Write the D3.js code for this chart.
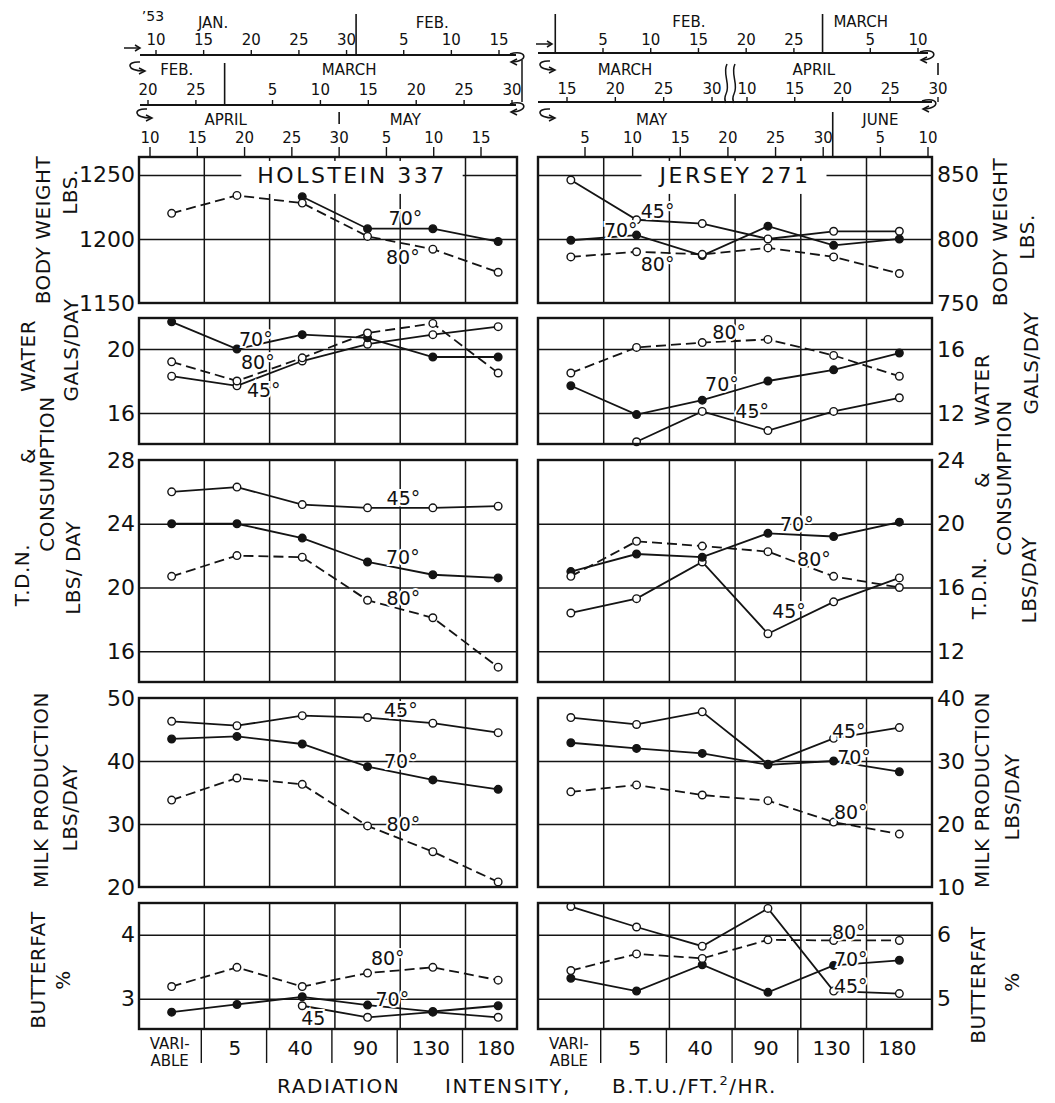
<!DOCTYPE html>
<html>
<head>
<meta charset="utf-8">
<script src="https://cdn.jsdelivr.net/npm/d3@7"></script>
<style>
  body { margin: 0; background: #fff; }
  svg text { font-family: 'DejaVu Sans', 'Liberation Sans', sans-serif; fill: #111; }
</style>
</head>
<body>
<div id="chart"></div>
<script>
// ---- Data ----------------------------------------------------------------

const categories = ['VARIABLE', '5', '40', '90', '130', '180']
const categoryLabels = [['VARI-', 'ABLE'], ['5'], ['40'], ['90'], ['130'], ['180']]

// Holstein 337 (null = not plotted)
const holsteinWeight = { 70: [null, null, 1233, 1208, 1208, 1198], 80: [1220, 1234, 1228, 1202, 1192, 1174] }
const holsteinWater = { 45: [18.3, 17.7, 19.25, 20.3, 20.9, 21.4], 70: [21.7, 20.0, 20.9, 20.7, 19.5, 19.5], 80: [19.2, 18.0, 19.45, 21.0, 21.6, 18.5] }
const holsteinTdn = { 45: [26.0, 26.3, 25.2, 25.0, 25.0, 25.1], 70: [24.0, 24.0, 23.1, 21.6, 20.8, 20.6], 80: [20.7, 22.0, 21.9, 19.2, 18.1, 15.0] }
const holsteinMilk = { 45: [46.3, 45.6, 47.2, 46.9, 46.0, 44.5], 70: [43.5, 43.9, 42.7, 39.1, 37.0, 35.5], 80: [33.8, 37.3, 36.3, 29.7, 25.6, 20.8] }
const holsteinFat = { 45: [null, null, 2.89, 2.71, 2.79, 2.71], 70: [2.79, 2.91, 3.03, 2.90, 2.80, 2.89], 80: [3.19, 3.49, 3.19, 3.40, 3.49, 3.29] }

// Jersey 271
const jerseyWeight = { 45: [846, 815, 812, 800, 806, 806], 70: [799, 803, 787, 810, 795, 800], 80: [786, 790, 788, 793, 786, 773] }
const jerseyWater = { 45: [null, 10.2, 12.1, 10.9, 12.1, 12.95], 70: [13.7, 11.9, 12.8, 14.0, 14.7, 15.75], 80: [14.5, 16.1, 16.4, 16.6, 15.6, 14.3] }
const jerseyTdn = { 45: [14.4, 15.3, 17.6, 13.1, 15.1, 16.6], 70: [17.0, 18.1, 17.9, 19.4, 19.2, 20.1], 80: [16.7, 18.9, 18.6, 18.25, 16.7, 16.0] }
const jerseyMilk = { 45: [36.9, 35.8, 37.8, 29.5, 33.6, 35.3], 70: [32.9, 32.0, 31.2, 29.4, 30.0, 28.3], 80: [25.1, 26.2, 24.6, 23.7, 20.3, 18.4] }
const jerseyFat = { 45: [6.44, 6.12, 5.82, 6.41, 5.12, 5.08], 70: [5.32, 5.12, 5.53, 5.10, 5.52, 5.60], 80: [5.44, 5.70, 5.63, 5.92, 5.91, 5.91] }

// Y tick labels
const holsteinWeightTicks = [1150, 1200, 1250]
const holsteinWaterTicks = [16, 20]
const holsteinTdnTicks = [16, 20, 24, 28]
const holsteinMilkTicks = [20, 30, 40, 50]
const holsteinFatTicks = [3, 4]
const jerseyWeightTicks = [750, 800, 850]
const jerseyWaterTicks = [12, 16]
const jerseyTdnTicks = [12, 16, 20, 24]
const jerseyMilkTicks = [10, 20, 30, 40]
const jerseyFatTicks = [5, 6]

// Temperature notes written along the lines: [text, category position, value]
const holsteinWeightNotes = [['70°', 3.58, 1216], ['80°', 3.54, 1186]]
const holsteinWaterNotes = [['70°', 1.29, 20.6], ['80°', 1.32, 19.2], ['45°', 1.41, 17.45]]
const holsteinTdnNotes = [['45°', 3.55, 25.6], ['70°', 3.54, 21.9], ['80°', 3.55, 19.3]]
const holsteinMilkNotes = [['45°', 3.51, 48.0], ['70°', 3.51, 40.0], ['80°', 3.55, 30.0]]
const holsteinFatNotes = [['80°', 3.31, 3.64], ['70°', 3.38, 3.0], ['45', 2.17, 2.7]]
const jerseyWeightNotes = [['45°', 1.32, 822], ['70°', 0.76, 807], ['80°', 1.32, 780]]
const jerseyWaterNotes = [['80°', 2.41, 17.05], ['70°', 2.3, 13.8], ['45°', 2.76, 12.1]]
const jerseyTdnNotes = [['70°', 3.44, 20.0], ['80°', 3.7, 17.8], ['45°', 3.32, 14.5]]
const jerseyMilkNotes = [['45°', 4.23, 34.8], ['70°', 4.31, 30.6], ['80°', 4.26, 21.85]]
const jerseyFatNotes = [['80°', 4.23, 6.04], ['70°', 4.26, 5.62], ['45°', 4.26, 5.2]]

// Calendar strips above the panels
const leftRow1Ticks = ['1953-01-10', '1953-01-15', '1953-01-20', '1953-01-25', '1953-01-30', '1953-02-05', '1953-02-10', '1953-02-15']
const leftRow2Ticks = ['1953-02-20', '1953-02-25', '1953-03-05', '1953-03-10', '1953-03-15', '1953-03-20', '1953-03-25', '1953-03-30']
const leftRow3Ticks = ['1953-04-10', '1953-04-15', '1953-04-20', '1953-04-25', '1953-04-30', '1953-05-05', '1953-05-10', '1953-05-15']
const rightRow1Ticks = ['1953-02-05', '1953-02-10', '1953-02-15', '1953-02-20', '1953-02-25', '1953-03-05', '1953-03-10']
const rightRow2Ticks = ['1953-03-15', '1953-03-20', '1953-03-25', '1953-03-30', '1953-04-10', '1953-04-15', '1953-04-20', '1953-04-25', '1953-04-30']
const rightRow3Ticks = ['1953-05-05', '1953-05-10', '1953-05-15', '1953-05-20', '1953-05-25', '1953-05-30', '1953-06-05', '1953-06-10']

const leftRow1Months = [['JAN.', '1953-01-16'], ['FEB.', '1953-02-08']]
const leftRow2Months = [['FEB.', '1953-02-23'], ['MARCH', '1953-03-13']]
const leftRow3Months = [['APRIL', '1953-04-18'], ['MAY', '1953-05-07']]
const rightRow1Months = [['FEB.', '1953-02-14'], ['MARCH', '1953-03-04']]
const rightRow2Months = [['MARCH', '1953-03-21'], ['APRIL', '1953-04-17']]
const rightRow3Months = [['MAY', '1953-05-12'], ['JUNE', '1953-06-05']]

// ---- Layout ---------------------------------------------------------------

const width = 1055
const height = 1103

const rows = {
  weight: { top: 157, bottom: 303 },
  water: { top: 318, bottom: 444 },
  tdn: { top: 460, bottom: 682 },
  milk: { top: 698, bottom: 887 },
  fat: { top: 903, bottom: 1029 }
}

const breeds = {
  holstein: { x0: 139, band: 65.3, frameWidth: 378, side: 'left' },
  jersey: { x0: 538, band: 65.7, frameWidth: 394, side: 'right' }
}

const seriesStyle = {
  45: { dash: null, filled: false },
  70: { dash: null, filled: true },
  80: { dash: '10,5', filled: false }
}

const panels = [
  { breed: 'holstein', row: 'weight', series: holsteinWeight, domain: [1150, 1264], ticks: holsteinWeightTicks, notes: holsteinWeightNotes, title: 'HOLSTEIN 337' },
  { breed: 'holstein', row: 'water', series: holsteinWater, domain: [14.06, 21.94], ticks: holsteinWaterTicks, notes: holsteinWaterNotes },
  { breed: 'holstein', row: 'tdn', series: holsteinTdn, domain: [14.07, 28], ticks: holsteinTdnTicks, notes: holsteinTdnNotes },
  { breed: 'holstein', row: 'milk', series: holsteinMilk, domain: [20, 50], ticks: holsteinMilkTicks, notes: holsteinMilkNotes },
  { breed: 'holstein', row: 'fat', series: holsteinFat, domain: [2.527, 4.495], ticks: holsteinFatTicks, notes: holsteinFatNotes },
  { breed: 'jersey', row: 'weight', series: jerseyWeight, domain: [750, 864], ticks: jerseyWeightTicks, notes: jerseyWeightNotes, title: 'JERSEY 271' },
  { breed: 'jersey', row: 'water', series: jerseyWater, domain: [10.06, 17.94], ticks: jerseyWaterTicks, notes: jerseyWaterNotes },
  { breed: 'jersey', row: 'tdn', series: jerseyTdn, domain: [10.07, 24], ticks: jerseyTdnTicks, notes: jerseyTdnNotes },
  { breed: 'jersey', row: 'milk', series: jerseyMilk, domain: [10, 40], ticks: jerseyMilkTicks, notes: jerseyMilkNotes },
  { breed: 'jersey', row: 'fat', series: jerseyFat, domain: [4.527, 6.495], ticks: jerseyFatTicks, notes: jerseyFatNotes }
]

const svg = d3.select('#chart')
  .append('svg')
  .attr('width', width)
  .attr('height', height)

svg.append('rect').attr('width', width).attr('height', height).attr('fill', '#fff')

const ink = '#141414'

// ---- Panels ---------------------------------------------------------------

panels.forEach(p => {
  const box = breeds[p.breed]
  const rowBox = rows[p.row]
  const right = box.x0 + box.frameWidth

  const xScale = d3.scaleBand()
    .domain(categories)
    .range([box.x0, box.x0 + box.band * categories.length])
  const xMid = (i) => xScale(categories[0]) + xScale.bandwidth() * (i + 0.5)
  const yScale = d3.scaleLinear().domain(p.domain).range([rowBox.bottom, rowBox.top])

  const g = svg.append('g').attr('class', 'panel')

  // Horizontal gridlines - inner ticks only, the frame covers the rest
  g.append('g')
    .attr('class', 'grid')
    .attr('transform', `translate(${box.x0},0)`)
    .call(
      d3.axisLeft(yScale)
        .tickValues(p.ticks.filter(t => yScale(t) > rowBox.top + 3 && yScale(t) < rowBox.bottom - 3))
        .tickSize(-box.frameWidth)
        .tickFormat('')
    )
    .call(a => a.select('.domain').remove())
    .call(a => a.selectAll('line').attr('stroke', ink).attr('stroke-width', 1.5))

  // Vertical gridlines at category boundaries
  g.selectAll('.vgrid')
    .data(categories.slice(1))
    .join('line')
    .attr('x1', d => xScale(d))
    .attr('x2', d => xScale(d))
    .attr('y1', rowBox.top)
    .attr('y2', rowBox.bottom)
    .attr('stroke', ink)
    .attr('stroke-width', 1.5)

  // Title with a white patch under it
  if (p.title) {
    const title = g.append('text')
      .attr('x', p.breed === 'holstein' ? 352 : 735)
      .attr('y', yScale(p.ticks[2]) + 8)
      .attr('text-anchor', 'middle')
      .attr('font-size', 22)
      .attr('letter-spacing', 2.5)
      .text(p.title)
    const bb = title.node().getBBox()
    g.insert('rect', () => title.node())
      .attr('x', bb.x - 16)
      .attr('y', bb.y - 2)
      .attr('width', bb.width + 32)
      .attr('height', bb.height + 8)
      .attr('fill', '#fff')
  }

  // Lines and markers
  Object.keys(p.series).forEach(temp => {
    const values = p.series[temp]
    const style = seriesStyle[temp]
    const pts = values.map((v, i) => ({ i, v }))
    const line = d3.line()
      .defined(d => d.v !== null)
      .x(d => xMid(d.i))
      .y(d => yScale(d.v))

    g.append('path')
      .datum(pts)
      .attr('d', line)
      .attr('fill', 'none')
      .attr('stroke', ink)
      .attr('stroke-width', 1.8)
      .attr('stroke-dasharray', style.dash)

    g.selectAll(null)
      .data(pts.filter(d => d.v !== null))
      .join('circle')
      .attr('cx', d => xMid(d.i))
      .attr('cy', d => yScale(d.v))
      .attr('r', 3.8)
      .attr('fill', style.filled ? ink : '#fff')
      .attr('stroke', ink)
      .attr('stroke-width', 1.4)
  })

  // Temperature notes
  g.selectAll('.note')
    .data(p.notes)
    .join('text')
    .attr('x', d => xMid(d[1]))
    .attr('y', d => yScale(d[2]))
    .attr('dy', '0.36em')
    .attr('text-anchor', 'middle')
    .attr('font-size', 19)
    .attr('stroke', '#fff')
    .attr('stroke-width', 4)
    .attr('paint-order', 'stroke')
    .text(d => d[0])

  // Frame
  g.append('rect')
    .attr('x', box.x0)
    .attr('y', rowBox.top)
    .attr('width', box.frameWidth)
    .attr('height', rowBox.bottom - rowBox.top)
    .attr('fill', 'none')
    .attr('stroke', ink)
    .attr('stroke-width', 2.4)

  // Tick labels
  const axis = box.side === 'left'
    ? d3.axisLeft(yScale).tickValues(p.ticks).tickSize(0).tickPadding(4)
    : d3.axisRight(yScale).tickValues(p.ticks).tickSize(0).tickPadding(5)
  g.append('g')
    .attr('transform', `translate(${box.side === 'left' ? box.x0 : right},0)`)
    .call(axis.tickFormat(d3.format('d')))
    .call(a => a.select('.domain').remove())
    .call(a => a.selectAll('text')
      .attr('font-size', 22)
      .attr('font-family', 'DejaVu Sans')
      .attr('fill', ink))
})

// ---- Bottom category axis ---------------------------------------------------

Object.keys(breeds).forEach(key => {
  const box = breeds[key]
  const xScale = d3.scaleBand()
    .domain(categories)
    .range([box.x0, box.x0 + box.band * categories.length])
  const base = rows.fat.bottom

  svg.selectAll(null)
    .data(categories.slice(1))
    .join('line')
    .attr('x1', d => xScale(d) - 3)
    .attr('x2', d => xScale(d) - 3)
    .attr('y1', base)
    .attr('y2', base + 34)
    .attr('stroke', ink)
    .attr('stroke-width', 1.4)

  const lbl = svg.selectAll(null)
    .data(categories)
    .join('text')
    .attr('x', d => xScale(d) + xScale.bandwidth() / 2 - 2)
    .attr('y', base + 26)
    .attr('text-anchor', 'middle')

  lbl.each(function (d, i) {
    const lines = categoryLabels[i]
    const t = d3.select(this)
    if (lines.length === 1) {
      t.attr('font-size', 20).text(lines[0])
    } else {
      t.attr('font-size', 15).attr('y', base + 20)
      t.append('tspan').attr('x', t.attr('x')).text(lines[0])
      t.append('tspan').attr('x', t.attr('x')).attr('dy', 17).text(lines[1])
    }
  })
})

// Radiation axis title, three words spread like the hand lettering
svg.append('text')
  .attr('y', 1093)
  .attr('font-size', 20)
  .attr('letter-spacing', 1.6)
  .call(t => {
    t.append('tspan').attr('x', 277).text('RADIATION')
    t.append('tspan').attr('x', 445).text('INTENSITY,')
    t.append('tspan').attr('x', 612).text('B.T.U./FT.')
    t.append('tspan').attr('font-size', 13).attr('dy', -8).text('2')
    t.append('tspan').attr('dy', 8).text('/HR.')
  })

// ---- Axis titles (rotated) --------------------------------------------------

const sideTitles = [
  ['BODY WEIGHT', 43, 230], ['LBS.', 70, 192],
  ['WATER', 28, 356], ['GALS/DAY', 71, 350], ['CONSUMPTION', 47, 474], ['&', 28, 456],
  ['T.D.N.', 22, 575], ['LBS/ DAY', 73, 568],
  ['MILK PRODUCTION', 41, 790], ['LBS/DAY', 70, 808],
  ['BUTTERFAT', 38, 970], ['%', 63, 980],
  ['BODY WEIGHT', 1000, 232], ['LBS.', 1027, 237],
  ['WATER', 982, 390], ['GALS/DAY', 1031, 363], ['CONSUMPTION', 1004, 478], ['&', 982, 480],
  ['T.D.N.', 979, 588], ['LBS/DAY', 1029, 580],
  ['MILK PRODUCTION', 982, 790], ['LBS/DAY', 1012, 797],
  ['BUTTERFAT', 978, 985], ['%', 1012, 982]
]

svg.selectAll('.side-title')
  .data(sideTitles)
  .join('text')
  .attr('transform', d => `translate(${d[1]},${d[2]}) rotate(-90)`)
  .attr('dy', '0.36em')
  .attr('text-anchor', 'middle')
  .attr('font-size', 20)
  .attr('letter-spacing', 0.5)
  .text(d => d[0])

// ---- Calendar strips --------------------------------------------------------

const parseDay = d3.timeParse('%Y-%m-%d')
const fmtDay = d3.timeFormat('%-d')

const dateRows = [
  { ticks: leftRow1Ticks, months: leftRow1Months, dividers: [['1953-01-31', 14, 55]], domain: ['1953-01-10', '1953-02-15'], range: [156, 499], axisY: 55, line: [140, 516], tickY: [50, 55], labelY: 45, monthY: 28 },
  { ticks: leftRow2Ticks, months: leftRow2Months, dividers: [['1953-02-28', 63, 105]], domain: ['1953-02-20', '1953-03-30'], range: [148, 512], axisY: 105, line: [140, 516], tickY: [100, 105], labelY: 95, monthY: 75 },
  { ticks: leftRow3Ticks, months: leftRow3Months, dividers: [['1953-04-30', 112, 124]], domain: ['1953-04-10', '1953-05-15'], range: [150, 481], axisY: null, tickY: [147, 157], labelY: 143, monthY: 125 },
  { ticks: rightRow1Ticks, months: rightRow1Months, dividers: [['1953-01-31', 14, 53], ['1953-02-28', 14, 53]], domain: ['1953-02-05', '1953-03-10'], range: [603, 918], axisY: 53, line: [538, 928], tickY: [48, 53], labelY: 45, monthY: 27 },
  { ticks: rightRow2Ticks, months: rightRow2Months, dividers: [['1953-04-30', 63, 75]], domain: ['1953-03-15', '1953-03-30', '1953-04-10', '1953-04-30'], range: [567, 712, 747, 938], axisY: 102, line: [538, 932], tickY: [97, 102], labelY: 94, monthY: 75 },
  { ticks: rightRow3Ticks, months: rightRow3Months, dividers: [['1953-05-31', 112, 157]], domain: ['1953-05-05', '1953-06-10'], range: [585, 928], axisY: null, tickY: [147, 157], labelY: 143, monthY: 125 }
]

dateRows.forEach(r => {
  const tScale = d3.scaleTime().domain(r.domain.map(parseDay)).range(r.range)
  const g = svg.append('g').attr('class', 'date-row')

  if (r.axisY) {
    g.append('line')
      .attr('x1', r.line[0]).attr('x2', r.line[1])
      .attr('y1', r.axisY).attr('y2', r.axisY)
      .attr('stroke', ink).attr('stroke-width', 1.9)
  }

  g.selectAll(null)
    .data(r.ticks.map(parseDay))
    .join('line')
    .attr('x1', d => tScale(d)).attr('x2', d => tScale(d))
    .attr('y1', r.tickY[0]).attr('y2', r.tickY[1])
    .attr('stroke', ink).attr('stroke-width', 1.4)

  g.selectAll(null)
    .data(r.ticks.map(parseDay))
    .join('text')
    .attr('x', d => tScale(d))
    .attr('y', r.labelY)
    .attr('text-anchor', 'middle')
    .attr('font-size', 15)
    .text(d => fmtDay(d))

  g.selectAll(null)
    .data(r.months)
    .join('text')
    .attr('x', d => tScale(parseDay(d[1])))
    .attr('y', r.monthY)
    .attr('text-anchor', 'middle')
    .attr('font-size', 15)
    .text(d => d[0])

  g.selectAll(null)
    .data(r.dividers)
    .join('line')
    .attr('x1', d => tScale(parseDay(d[0]))).attr('x2', d => tScale(parseDay(d[0])))
    .attr('y1', d => d[1]).attr('y2', d => d[2])
    .attr('stroke', ink).attr('stroke-width', 1.6)
})

svg.append('text').attr('x', 153).attr('y', 21).attr('text-anchor', 'middle').attr('font-size', 14).text('\u201953')

// Small arrows that lead one strip into the next
const arrowG = svg.append('g').attr('fill', 'none').attr('stroke', ink).attr('stroke-width', 1.5)

const straightArrow = (x, y) => {
  arrowG.append('path').attr('d', `M${x - 16},${y} L${x},${y}`)
  arrowG.append('path').attr('d', `M${x - 5},${y - 3} L${x},${y} L${x - 5},${y + 3}`)
}
const returnRight = (x, y) => {
  arrowG.append('path').attr('d', `M${x - 14},${y - 1} C${x + 2},${y - 6} ${x + 6},${y + 6} ${x - 12},${y + 7}`)
  arrowG.append('path').attr('d', `M${x - 7},${y + 4} L${x - 13},${y + 7} L${x - 7},${y + 10}`)
}
const returnLeft = (x, y) => {
  arrowG.append('path').attr('d', `M${x + 6},${y - 5} C${x - 8},${y - 6} ${x - 8},${y + 4} ${x + 10},${y + 4}`)
  arrowG.append('path').attr('d', `M${x + 5},${y + 1} L${x + 11},${y + 4} L${x + 5},${y + 7}`)
}

straightArrow(140, 48)
returnRight(524, 55)
arrowG.append('path').attr('d', 'M522,60 L522,102')
returnLeft(134, 67)
returnRight(524, 105)
returnLeft(141, 114)

straightArrow(552, 44)
returnRight(934, 53)
returnLeft(544, 66)
returnRight(936, 102)
returnLeft(544, 114)

// Break in the right middle strip
arrowG.append('path').attr('d', 'M727,64 C722,74 731,84 726,94 C724,98 725,101 726,103')
arrowG.append('path').attr('d', 'M735,64 C730,74 739,84 734,94 C732,98 733,101 734,103')
</script>
</body>
</html>
